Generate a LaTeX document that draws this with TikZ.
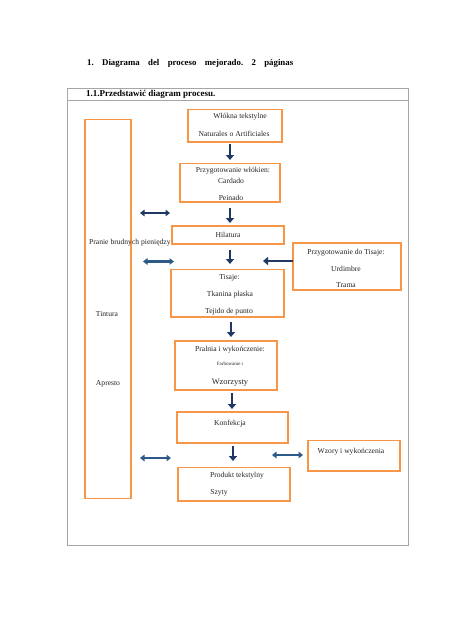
\documentclass[tikz,border=0pt]{standalone}
\usepackage{fontspec}
\setmainfont{Liberation Serif}
\usetikzlibrary{arrows.meta}
\definecolor{boxorange}{HTML}{F79646}
\definecolor{navy}{HTML}{1F3864}
\definecolor{steel}{HTML}{2E5A8A}
\definecolor{framegray}{HTML}{A6A6A6}
\tikzset{
  obox/.style={draw=boxorange, line width=1.3pt},
  txt/.style={font=\fontsize{7.6}{8}\selectfont, inner sep=0pt, text=black!85},
  downarr/.style={draw=navy, line width=2.8pt, -{Triangle[width=8pt,length=5pt]}},
  leftarr/.style={draw=navy, line width=2.8pt, -{Triangle[width=8pt,length=5pt]}},
  dblarr/.style={draw=#1, line width=2.3pt, {Triangle[width=6.5pt,length=4.5pt]}-{Triangle[width=6.5pt,length=4.5pt]}},
}
\begin{document}
\begin{tikzpicture}[x=1pt,y=-1pt]
\useasboundingbox[fill=white] (0,0) rectangle (474,632);
\frenchspacing
% title
\node[anchor=west, inner sep=0pt, font=\bfseries\fontsize{8.8}{10}\selectfont] (title) at (87,63.5)
  {\makebox[206pt][s]{1. Diagrama del proceso mejorado. 2 páginas}};
% frame
\draw[framegray, line width=0.8pt] (67.5,88.5) rectangle (408,545);
\draw[framegray, line width=0.8pt] (67.5,100) -- (408,100);
\node[anchor=west, inner sep=0pt, font=\bfseries\fontsize{9}{10}\selectfont] (sub) at (86,94.5) {1.1.Przedstawić diagram procesu.};
% left tall box
\draw[obox] (85,119.5) rectangle (131,498.5);
% boxes
\draw[obox] (188,109.5) rectangle (282,142);
\draw[obox] (180,163.5) rectangle (280,202);
\draw[obox] (172,226) rectangle (284,244);
\draw[obox] (293,243) rectangle (401,290);
\draw[obox] (171,269.5) rectangle (284,317);
\draw[obox] (175,341) rectangle (277,390);
\draw[obox] (177,412) rectangle (288,443);
\draw[obox] (308,440.5) rectangle (400,471);
\draw[obox] (178,467.5) rectangle (290,501);
% texts
\node[txt] (t1a) at (240,117) {Włókna tekstylne};
\node[txt] (t1b) at (234,134) {Naturales o Artificiales};
\node[txt] (t2a) at (233,171) {Przygotowanie włókien:};
\node[txt] (t2b) at (231,181) {Cardado};
\node[txt] (t2c) at (231,197.5) {Peinado};
\node[txt] (t3) at (228,235) {Hilatura};
\node[txt, anchor=west] (pranie) at (89,243) {Pranie brudnych pieniędzy};
\node[txt] (r1) at (346,252.5) {Przygotowanie do Tisaje:};
\node[txt] (r2) at (346,268.5) {Urdimbre};
\node[txt] (r3) at (346,285) {Trama};
\node[txt] (t4a) at (229.5,278) {Tisaje:};
\node[txt] (t4b) at (230,295) {Tkanina płaska};
\node[txt] (t4c) at (229,312) {Tejido de punto};
\node[txt] (tintura) at (107,314) {Tintura};
\node[txt] (t5a) at (230,350) {Pralnia i wykończenie:};
\node[txt, font=\fontsize{5}{5}\selectfont] (t5b) at (230,364) {Farbowanie i};
\node[txt, font=\fontsize{8.4}{9}\selectfont] (t5c) at (230,383) {Wzorzysty};
\node[txt] (apresto) at (108,384) {Apresto};
\node[txt] (t6) at (230,424) {Konfekcja};
\node[txt] (w1) at (351,452) {Wzory i wykończenia};
\node[txt] (t7a) at (237,476) {Produkt tekstylny};
\node[txt] (t7b) at (219,492.5) {Szyty};
% arrow end coordinates
\coordinate (a1s) at (230,144); \coordinate (a1e) at (230,160);
\coordinate (a2s) at (230,208); \coordinate (a2e) at (230,223);
\coordinate (a3s) at (230,250); \coordinate (a3e) at (230,264);
\coordinate (a4s) at (231,322); \coordinate (a4e) at (231,337);
\coordinate (a5s) at (232,393); \coordinate (a5e) at (232,409);
\coordinate (a6s) at (233,446); \coordinate (a6e) at (233,461);
\coordinate (l1s) at (293,261); \coordinate (l1e) at (263,261);
\coordinate (d1a) at (140,213); \coordinate (d1b) at (170,213);
\coordinate (d2a) at (143,261.5); \coordinate (d2b) at (174,261.5);
\coordinate (d3a) at (140,458); \coordinate (d3b) at (171,458);
\coordinate (d4a) at (272,455); \coordinate (d4b) at (303,455);
\draw[downarr] (a1s) -- (a1e);
\draw[downarr] (a2s) -- (a2e);
\draw[downarr] (a3s) -- (a3e);
\draw[downarr] (a4s) -- (a4e);
\draw[downarr] (a5s) -- (a5e);
\draw[downarr] (a6s) -- (a6e);
\draw[leftarr] (l1s) -- (l1e);
\draw[dblarr=navy] (d1a) -- (d1b);
\draw[dblarr=steel] (d2a) -- (d2b);
\draw[dblarr=steel] (d3a) -- (d3b);
\draw[dblarr=steel] (d4a) -- (d4b);
\end{tikzpicture}
\end{document}
